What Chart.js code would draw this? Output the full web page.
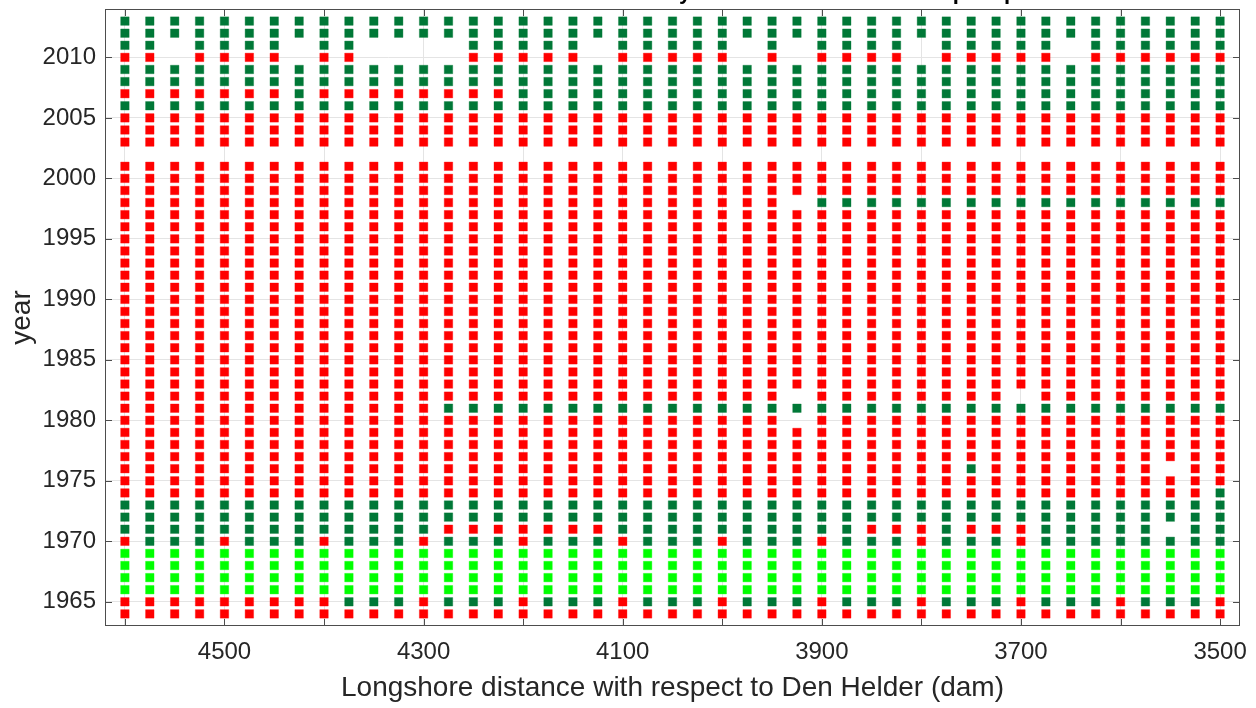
<!DOCTYPE html>
<html>
<head>
<meta charset="utf-8">
<script src="https://cdn.jsdelivr.net/npm/chart.js@4.4.1/dist/chart.umd.min.js"></script>
<style>
  html, body { margin: 0; padding: 0; background: #fff; }
  #wrap { width: 1256px; height: 708px; }
</style>
</head>
<body>
<div id="wrap"><canvas id="transectChart" width="1256" height="708"></canvas></div>
<script>
// transects, west to east as plotted (dam from Den Helder)
const distances = [4600, 4575, 4550, 4525, 4500, 4475, 4450, 4425, 4400, 4375,
                   4350, 4325, 4300, 4275, 4250, 4225, 4200, 4175, 4150, 4125,
                   4100, 4075, 4050, 4025, 4000, 3975, 3950, 3925, 3900, 3875,
                   3850, 3825, 3800, 3775, 3750, 3725, 3700, 3675, 3650, 3625,
                   3600, 3575, 3550, 3525, 3500];

const years = [2013, 2012, 2011, 2010, 2009, 2008, 2007, 2006, 2005, 2004, 2003,
               2001, 2000, 1999, 1998, 1997, 1996, 1995, 1994, 1993, 1992, 1991,
               1990, 1989, 1988, 1987, 1986, 1985, 1984, 1983, 1982, 1981, 1980,
               1979, 1978, 1977, 1976, 1975, 1974, 1973, 1972, 1971, 1970, 1969,
               1968, 1967, 1966, 1965, 1964];

// one string per year, one letter per transect (groups of 5)
// R = red, G = dark green, L = light green, . = no data
const states = [
  'GGGGG GGGGG GGGGG GGGGG GGGGG GGGGG GGGGG GGGGG GGGGG', // 2013
  'GGGGG GGGGG GGGGG GGGGG GGGGG GGGGG GGGGG GGGGG GGGGG', // 2012
  'GG.GG GG.GG ....G GGGG. GGGGG .G.GG GG.GG GGG.G GGGGG', // 2011
  'RR.RR RR.RR ....R RRRR. RRRRR .R.RR RR.RR RRR.R RRRRR', // 2010
  'GGGGG GGGGG GGGGG GGGGG GGGGG GGGGG GGGGG GGGGG GGGGG', // 2009
  'GGGGG GGGGG GGGGG GGGGG GGGGG GGGGG GGGGG GGGGG GGGGG', // 2008
  'RRRRR RRGRR RRRRR RGGGG GGGGG GGGGG GGGGG GGGGG GGGGG', // 2007
  'GGGGG GGGGG GGGGG GGGGG GGGGG GGGGG GGGGG GGGGG GGGGG', // 2006
  'RRRRR RRRRR RRRRR RRRRR RRRRR RRRRR RRRRR RRRRR RRRRR', // 2005
  'RRRRR RRRRR RRRRR RRRRR RRRRR RRRRR RRRRR RRRRR RRRRR', // 2004
  'RRRRR RRRRR RRRRR RRRRR RRRRR RRRRR RRRRR RRRRR RRRRR', // 2003
  'RRRRR RRRRR RRRRR RRRRR RRRRR RRRRR RRRRR RRRRR RRRRR', // 2001
  'RRRRR RRRRR RRRRR RRRRR RRRRR RRRRR RRRRR RRRRR RRRRR', // 2000
  'RRRRR RRRRR RRRRR RRRRR RRRRR RRRRR RRRRR RRRRR RRRRR', // 1999
  'RRRRR RRRRR RRRRR RRRRR RRRRR RR.GG GGGGG GGGGG GGGGG', // 1998
  'RRRRR RRRRR RRRRR RRRRR RRRRR RRRRR RRRRR RRRRR RRRRR', // 1997
  'RRRRR RRRRR RRRRR RRRRR RRRRR RRRRR RRRRR RRRRR RRRRR', // 1996
  'RRRRR RRRRR RRRRR RRRRR RRRRR RRRRR RRRRR RRRRR RRRRR', // 1995
  'RRRRR RRRRR RRRRR RRRRR RRRRR RRRRR RRRRR RRRRR RRRRR', // 1994
  'RRRRR RRRRR RRRRR RRRRR RRRRR RRRRR RRRRR RRRRR RRRRR', // 1993
  'RRRRR RRRRR RRRRR RRRRR RRRRR RRRRR RRRRR RRRRR RRRRR', // 1992
  'RRRRR RRRRR RRRRR RRRRR RRRRR RRRRR RRRRR RRRRR RRRRR', // 1991
  'RRRRR RRRRR RRRRR RRRRR RRRRR RRRRR RRRRR RRRRR RRRRR', // 1990
  'RRRRR RRRRR RRRRR RRRRR RRRRR RRRRR RRRRR RRRRR RRRRR', // 1989
  'RRRRR RRRRR RRRRR RRRRR RRRRR RRRRR RRRRR RRRRR RRRRR', // 1988
  'RRRRR RRRRR RRRRR RRRRR RRRRR RRRRR RRRRR RRRRR RRRRR', // 1987
  'RRRRR RRRRR RRRRR RRRRR RRRRR RRRRR RRRRR RRRRR RRRRR', // 1986
  'RRRRR RRRRR RRRRR RRRRR RRRRR RRRRR RRRRR RRRRR RRRRR', // 1985
  'RRRRR RRRRR RRRRR RRRRR RRRRR RRRRR RRRRR RRRRR RRRRR', // 1984
  'RRRRR RRRRR RRRRR RRRRR RRRRR RRRRR RRRRR RRRRR RRRRR', // 1983
  'RRRRR RRRRR RRRRR RRRRR RRRRR RR.RR RRRRR R.RRR RRRRR', // 1982
  'RRRRR RRRRR RRRGG GGGGG GGGGG GGGGG GGGGG GGGGG GGGGG', // 1981
  'RRRRR RRRRR RRRRR RRRRR RRRRR RR.RR RRRRR RRRRR RRRRR', // 1980
  'RRRRR RRRRR RRRRR RRRRR RRRRR RRRRR RRRRR RRRRR RRRRR', // 1979
  'RRRRR RRRRR RRRRR RRRRR RRRRR RRRRR RRRRR RRRRR RRRRR', // 1978
  'RRRRR RRRRR RRRRR RRRRR RRRRR RRRRR RRRRR RRRRR RRRRR', // 1977
  'RRRRR RRRRR RRRRR RRRRR RRRRR RRRRR RRRRG RRRRR RR.RR', // 1976
  'RRRRR RRRRR RRRRR RRRRR RRRRR RRRRR RRRRR RRRRR RRRRR', // 1975
  'RRRRR RRRRR RRRRR RRRRR RRRRR RRRRR RRRRR RRRRR RRRRG', // 1974
  'GGGGG GGGGG GGGGG GGGGG GGGGG GGGGG GGGGG GGGGG GGGGG', // 1973
  'GGGGG GGGGG GGGGG GGGGG GGGGG GGGGG GGGGG GGGGG GGGGG', // 1972
  'GGGGG GGGGG GGGRR RRRRR GGGGG GGGGG RRRGR RRGGG GG.GG', // 1971
  'RGGGR GGGRG GGRGG GRGGG RGGGR GGGRG GGRGG GRGGG GGGGG', // 1970
  'LLLLL LLLLL LLLLL LLLLL LLLLL LLLLL LLLLL LLLLL LLLLL', // 1969
  'LLLLL LLLLL LLLLL LLLLL LLLLL LLLLL LLLLL LLLLL LLLLL', // 1968
  'LLLLL LLLLL LLLLL LLLLL LLLLL LLLLL LLLLL LLLLL LLLLL', // 1967
  'LLLLL LLLLL LLLLL LLLLL LLLLL LLLLL LLLLL LLLLL LLLLL', // 1966
  'RRRRR RRRRG GGRGG GRGGG RGGGR GGGRG GGRGG GRGGG RGGGR', // 1965
  'RRRRR RRRRR RRRRR RRRRR RRRRR RRRRR RRRRR RRRRR RRRRR'  // 1964
];

const xTickValues = [4600, 4500, 4400, 4300, 4200, 4100, 4000, 3900, 3800, 3700, 3600, 3500];
const xTickLabels = ['', '4500', '', '4300', '', '4100', '', '3900', '', '3700', '', '3500'];
const yTickValues = [1965, 1970, 1975, 1980, 1985, 1990, 1995, 2000, 2005, 2010];

const titleLead = 'Coastline classification b';
const titleText = 'Coastline classification by transect: total accretion plus period';
const xTitle = 'Longshore distance with respect to Den Helder (dam)';
const yTitle = 'year';

const textColor = '#262626';
const fontFamily = "'Liberation Sans', Arial, Helvetica, sans-serif";

function pointsFor(code) {
    const pts = [];
    years.forEach((yr, i) => {
        const row = states[i].replace(/ /g, '');
        for (let j = 0; j < distances.length; j++) {
            if (row[j] === code) pts.push({ x: distances[j], y: yr });
        }
    });
    return pts;
}

function markerSet(code, fill, edge) {
    return {
        data: pointsFor(code),
        pointStyle: 'rect',
        pointRadius: 6,
        pointBackgroundColor: fill,
        pointBorderColor: edge,
        pointBorderWidth: 1,
        pointHoverRadius: 6
    };
}

// box with inward ticks, axis titles and the clipped title
const framePlugin = {
    id: 'frame',
    afterDraw(chart) {
        const { ctx, chartArea: a, scales } = chart;
        const tick = 7;
        ctx.save();
        ctx.strokeStyle = '#4d4d4d';
        ctx.lineWidth = 1;
        ctx.strokeRect(a.left + 0.5, a.top + 0.5, a.right - a.left - 1, a.bottom - a.top - 1);
        ctx.beginPath();
        xTickValues.forEach(v => {
            const px = Math.round(scales.x.getPixelForValue(v)) + 0.5;
            ctx.moveTo(px, a.bottom); ctx.lineTo(px, a.bottom - tick);
            ctx.moveTo(px, a.top); ctx.lineTo(px, a.top + tick);
        });
        yTickValues.forEach(v => {
            const py = Math.round(scales.y.getPixelForValue(v)) + 0.5;
            ctx.moveTo(a.left, py); ctx.lineTo(a.left + tick, py);
            ctx.moveTo(a.right, py); ctx.lineTo(a.right - tick, py);
        });
        ctx.stroke();

        ctx.fillStyle = textColor;
        ctx.font = '28px ' + fontFamily;
        ctx.textAlign = 'center';
        ctx.textBaseline = 'middle';
        ctx.fillText(xTitle, (a.left + a.right) / 2, 688);

        ctx.translate(22, (a.top + a.bottom) / 2);
        ctx.rotate(-Math.PI / 2);
        ctx.fillText(yTitle, 0, 0);
        ctx.restore();

        // title sits above the visible page, only descenders show
        ctx.save();
        ctx.fillStyle = '#000';
        ctx.font = 'bold 22px ' + fontFamily;
        ctx.textAlign = 'left';
        ctx.textBaseline = 'alphabetic';
        const lead = ctx.measureText(titleLead).width + ctx.measureText('y').width / 2;
        ctx.fillText(titleText, 685 - lead, -1);
        ctx.restore();
    }
};

function noEdgePadding(scale) {
    scale.paddingTop = 0;
    scale.paddingBottom = 0;
    scale.paddingLeft = 0;
    scale.paddingRight = 0;
}

Chart.defaults.font.family = fontFamily;
Chart.defaults.color = textColor;

const ctx = document.getElementById('transectChart').getContext('2d');
new Chart(ctx, {
    type: 'scatter',
    data: {
        datasets: [
            markerSet('R', '#ff0000', 'rgba(255,0,0,0.35)'),
            markerSet('G', '#007837', 'rgba(0,120,55,0.35)'),
            markerSet('L', '#00ff00', 'rgba(0,255,0,0.35)')
        ]
    },
    options: {
        responsive: false,
        animation: false,
        devicePixelRatio: 1,
        layout: { padding: { left: 0, right: 16, top: 9, bottom: 0 } },
        plugins: {
            legend: { display: false },
            tooltip: { enabled: false }
        },
        scales: {
            x: {
                type: 'linear',
                reverse: true,
                min: 3480,
                max: 4620,
                afterBuildTicks: scale => { scale.ticks = xTickValues.map(v => ({ value: v })); },
                afterFit: scale => { scale.height = 82; noEdgePadding(scale); },
                ticks: {
                    autoSkip: false,
                    maxRotation: 0,
                    padding: 12,
                    font: { size: 24 },
                    color: textColor,
                    callback: (value, i) => xTickLabels[i]
                },
                grid: { color: '#e4e4e4', drawTicks: false },
                border: { display: false }
            },
            y: {
                type: 'linear',
                min: 1963,
                max: 2014,
                afterBuildTicks: scale => { scale.ticks = yTickValues.map(v => ({ value: v })); },
                afterFit: scale => { scale.width = 105; noEdgePadding(scale); },
                ticks: {
                    autoSkip: false,
                    padding: 9,
                    font: { size: 24 },
                    color: textColor,
                    callback: value => String(value)
                },
                grid: { color: '#e4e4e4', drawTicks: false },
                border: { display: false }
            }
        }
    },
    plugins: [framePlugin]
});
</script>
</body>
</html>
